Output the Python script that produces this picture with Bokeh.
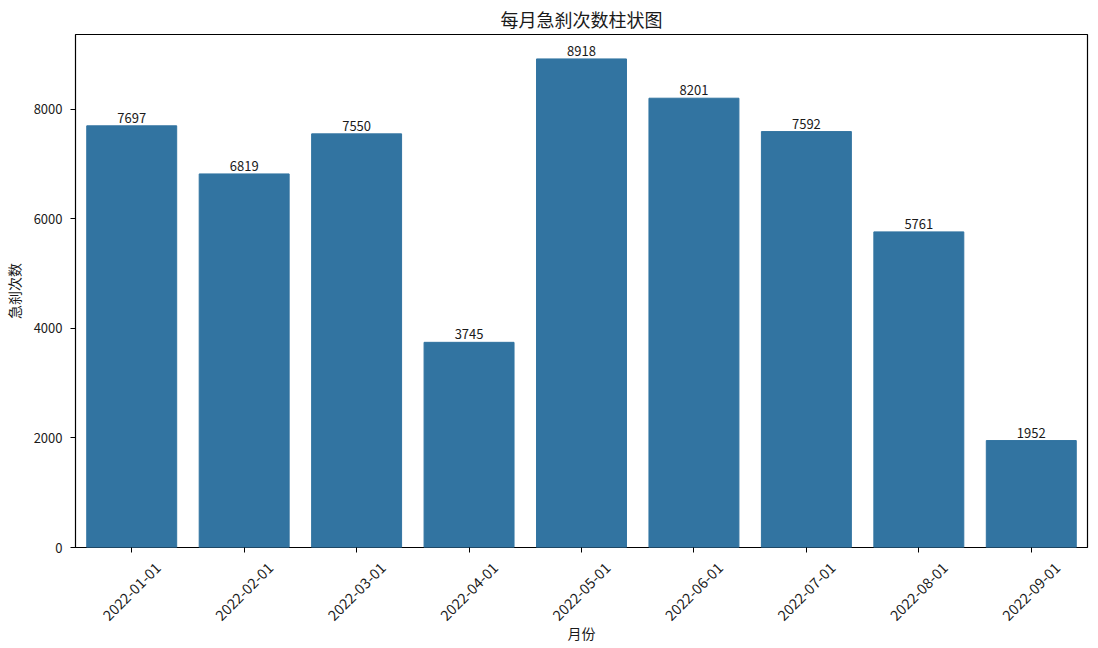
import math
from bokeh.plotting import figure
from bokeh.layouts import column
from bokeh.models import ColumnDataSource, Range1d, FixedTicker, FactorRange, LabelSet
from bokeh.core.properties import value
from bokeh.embed import file_html
from bokeh.resources import INLINE

months = ["2022-01-01", "2022-02-01", "2022-03-01", "2022-04-01", "2022-05-01",
          "2022-06-01", "2022-07-01", "2022-08-01", "2022-09-01"]
counts = [7697, 6819, 7550, 3745, 8918, 8201, 7592, 5761, 1952]
y_ticks = [0, 2000, 4000, 6000, 8000]

FONT = "Noto Sans CJK SC"
TXT = "#1a1a1a"
LEFT = 67          # left panel width (px)
TICKLABEL_Y = -35  # px below top of lower strip
XLABEL_Y = -76

src = ColumnDataSource(dict(month=months, count=counts, label=[str(c) for c in counts]))
xr = FactorRange(*months)

p = figure(x_range=xr, y_range=Range1d(0, max(counts) * 1.05),
           frame_width=1012, frame_height=513,
           min_border_left=0, min_border_right=8, min_border_top=0, min_border_bottom=9,
           output_backend="svg", toolbar_location=None, title="每月急刹次数柱状图")

p.vbar(x="month", top="count", width=0.8, source=src, color="#3274a1", line_color="#3274a1")

bar_labels = LabelSet(x="month", y="count", text="label", source=src, text_align="center",
                      text_baseline="bottom", y_offset=3, text_font=value(FONT),
                      text_font_size="13px", text_color=TXT)
p.add_layout(bar_labels)

p.title.align = "center"
p.title.text_font = FONT
p.title.text_font_size = "18px"
p.title.text_font_style = "normal"
p.title.text_color = TXT
p.title.standoff = 6

p.xgrid.grid_line_color = None
p.ygrid.grid_line_color = None
p.outline_line_color = "black"
p.outline_line_width = 1.2
p.outline_line_alpha = 1

for ax in (p.xaxis[0], p.yaxis[0]):
    ax.axis_line_color = None
    ax.major_tick_in = 0
    ax.major_tick_out = 5
    ax.major_tick_line_color = "black"
    ax.minor_tick_line_color = None
    ax.major_label_text_font = FONT
    ax.major_label_text_font_size = "13px"
    ax.major_label_text_color = TXT
    ax.axis_label_text_font = FONT
    ax.axis_label_text_font_size = "14px"
    ax.axis_label_text_font_style = "normal"
    ax.axis_label_text_color = TXT

p.yaxis[0].ticker = FixedTicker(ticks=y_ticks)
p.yaxis[0].axis_label = "急刹次数"
p.yaxis[0].major_label_standoff = 8
p.yaxis[0].axis_label_standoff = 7
p.xaxis[0].major_label_text_color = None
p.xaxis[0].major_label_standoff = 0

# lower strip carrying the rotated month labels and the x-axis title
p2 = figure(x_range=xr, y_range=Range1d(-87, 0), frame_width=1012, frame_height=87,
            min_border_left=LEFT, min_border_right=8, min_border_top=0, min_border_bottom=0,
            output_backend="svg", toolbar_location=None)
p2.axis.visible = False
p2.grid.grid_line_color = None
p2.outline_line_color = None

lab_src = ColumnDataSource(dict(month=months, y=[TICKLABEL_Y] * len(months)))
p2.text(x="month", y="y", text="month", source=lab_src, angle=math.pi / 4,
        text_align="center", text_baseline="middle", text_font=value(FONT),
        text_font_size="14.5px", text_color=TXT)
p2.text(x=[months[len(months) // 2]], y=[XLABEL_Y], text=["月份"], text_align="center",
        text_baseline="middle", text_font=value(FONT), text_font_size="14px", text_color=TXT)

open("out.html", "w").write(file_html(column(p, p2), INLINE))
